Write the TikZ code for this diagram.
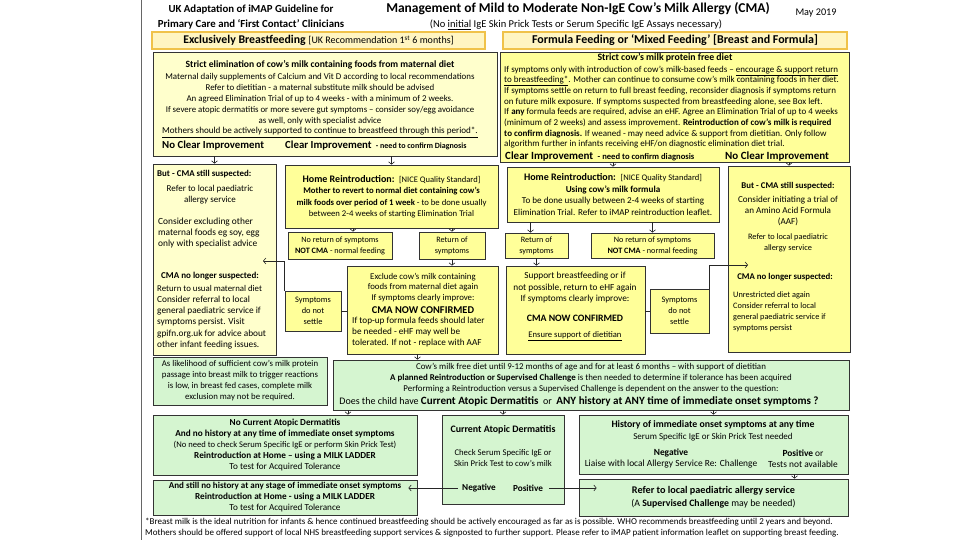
\documentclass[tikz,border=0pt]{standalone}
\usepackage{fontspec}
\setmainfont{Carlito}
\usetikzlibrary{arrows.meta,calc}
\definecolor{yel}{HTML}{FFFF99}
\definecolor{cream}{HTML}{FFFFCC}
\definecolor{grn}{HTML}{D5F5D0}
\definecolor{bandfill}{HTML}{FFF5C2}
\definecolor{bandedge}{HTML}{F0C24A}
\newcommand\fs[2]{\fontsize{#1}{#2}\selectfont}
\newcommand\mybox[7]{\node[#2, minimum width={#5pt-#3pt}, minimum height={#6pt-#4pt}] (#1) at ({(#3+#5)/2},{(#4+#6)/2}) {#7};}
\begin{document}
\begin{tikzpicture}[x=1pt,y=-1pt,
 bx/.style={draw=black!80, line width=0.7pt, inner sep=1pt, align=center, font=\fs{8}{10.6}},
 ybx/.style={bx, fill=yel},
 cbx/.style={bx, fill=cream},
 gbx/.style={bx, fill=grn},
 band/.style={draw=bandedge, line width=1.6pt, fill=bandfill, inner sep=0pt},
 txt/.style={inner sep=0pt, align=center, font=\fs{8}{10.6}},
 arr/.style={draw=black!85, line width=0.6pt, -{Straight Barb[length=2.5pt,width=6pt]}},
 ln/.style={draw=black!85, line width=0.6pt}]
\useasboundingbox (0,0) rectangle (960,540);
\fill[white] (0,0) rectangle (960,540);
\draw[black!60, line width=1pt] (141,0) -- (141,540);
% header
\node[txt, font=\bfseries\fs{10.8}{12}] (h1) at (251,10) {UK Adaptation of iMAP Guideline for};
\node[txt, font=\bfseries\fs{10.8}{12}] (h2) at (251,24) {Primary Care and ‘First Contact’ Clinicians};
\node[txt, font=\bfseries\fs{13.5}{16}] (title) at (578,9) {Management of Mild to Moderate Non-IgE Cow’s Milk Allergy (CMA)};
\node[txt, font=\fs{10.5}{12}] (sub) at (576,25) {(No \underline{initial} IgE Skin Prick Tests or Serum Specific IgE Assays necessary)};
\node[txt, font=\fs{10.2}{12}] (date) at (816,13) {May 2019};
% bands
\mybox{bandL}{band}{152}{32}{485}{49}{\bfseries\fs{11.8}{13}Exclusively Breastfeeding \mdseries\fs{10}{13}[UK Recommendation 1\textsuperscript{st} 6 months]}
\mybox{bandR}{band}{503}{32}{847}{49}{\bfseries\fs{12}{13}Formula Feeding or ‘Mixed Feeding’ [Breast and Formula]}
% top left
\mybox{TL}{cbx}{153}{52}{497}{156}{}
\node[txt, font=\fs{8.9}{10.8}] (tlt) at (320,99) {{\bfseries\fs{9.6}{10.8}Strict elimination of cow’s milk containing foods from maternal diet}\\[1.5pt]
Maternal daily supplements of Calcium and Vit D according to local recommendations\\
Refer to dietitian - a maternal substitute milk should be advised\\
An agreed Elimination Trial of up to 4 weeks - with a minimum of 2 weeks.\\
{\fs{8.8}{10.8}If severe atopic dermatitis or more severe gut symptoms – consider soy/egg avoidance}\\
as well, only with specialist advice\\
{\fs{9.1}{10.8}\underline{Mothers should be actively supported to continue to breastfeed through this period*.}}};
\node[txt, anchor=west, font=\bfseries\fs{10.8}{12}] (tlno) at (162,146) {No Clear Improvement};
\node[txt, anchor=west, font=\bfseries\fs{10.8}{12}] (tlyes) at (285,146) {Clear Improvement {\fs{8}{9} - need to confirm Diagnosis}};
% top right
\mybox{TR}{ybx}{500}{52}{849}{162}{}
\node[txt, font=\bfseries\fs{9.8}{10}] (trh) at (665,58) {Strict cow’s milk protein free diet};
\node[txt, anchor=north west, align=left, font=\fs{9}{10.7}] (trt) at (504,65.5) {If symptoms only with introduction of cow’s milk-based feeds – \underline{encourage \& support return}\\
\underline{to breastfeeding*}. Mother can continue to consume cow’s milk containing foods in her diet.\\
If symptoms settle on return to full breast feeding, reconsider diagnosis if symptoms return\\
on future milk exposure. If symptoms suspected from breastfeeding alone, see Box left.\\
If \textbf{any} formula feeds are required, advise an eHF. Agree an Elimination Trial of up to 4 weeks\\
(minimum of 2 weeks) and assess improvement. \textbf{Reintroduction of cow’s milk is required}\\
\textbf{to confirm diagnosis.} If weaned - may need advice \& support from dietitian. Only follow\\
algorithm further in infants receiving eHF/on diagnostic elimination diet trial.};
\node[txt, anchor=west, font=\bfseries\fs{11}{12}] (tryes) at (505,157) {Clear Improvement {\fs{8.6}{9} - need to confirm diagnosis}};
\node[txt, anchor=west, font=\bfseries\fs{11}{12}] (trno) at (725,157) {No Clear Improvement};
% left CMA box
\mybox{CMAL}{cbx}{153}{164}{276}{355}{}
\node[txt, anchor=west, font=\bfseries\fs{8.9}{10}] (cl1) at (157,174) {But - CMA still suspected:};
\node[txt, font=\fs{9}{11}] (cl2) at (210,194.5) {Refer to local paediatric\\ allergy service};
\node[txt, anchor=west, align=left, font=\fs{9.4}{11}] (cl3) at (158,233) {Consider excluding other\\ maternal foods eg soy, egg\\ only with specialist advice};
\node[txt, font=\bfseries\fs{9}{10}] (cl4) at (210,276) {CMA no longer suspected:};
\node[txt, anchor=west, align=left, font=\fs{9.3}{11.2}] (cl5) at (157,317) {{\fs{8.8}{11.2}Return to usual maternal diet}\\ Consider referral to local\\ general paediatric service if\\ symptoms persist. Visit\\ gpifn.org.uk for advice about\\ other infant feeding issues.};
% left middle column
\mybox{HomeL}{ybx, font=\fs{8.7}{11.5}}{285}{165}{498}{228}{{\bfseries\fs{10}{11.5}Home Reintroduction:} \ {\fs{8.5}{11.5}[NICE Quality Standard]}\\ \textbf{Mother to revert to normal diet containing cow’s}\\ \textbf{milk foods over period of 1 week} - to be done usually\\ between 2-4 weeks of starting Elimination Trial}
\mybox{NoRetL}{ybx, font=\fs{8.2}{11}}{288}{232}{392}{259}{No return of symptoms\\ \textbf{NOT CMA} - normal feeding}
\mybox{RetL}{ybx, font=\fs{8.2}{11}}{419}{232}{485}{259}{Return of\\ symptoms}
\mybox{SymL}{ybx, font=\fs{8.4}{11}}{285}{291}{341}{331}{Symptoms\\ do not\\ settle}
\mybox{ExclL}{ybx}{347}{266}{498}{354}{}
\node[txt, font=\fs{8.8}{10.8}] (ex1) at (423,287.5) {Exclude cow’s milk containing\\ foods from maternal diet again\\ If symptoms clearly improve:};
\node[txt, font=\bfseries\fs{10.4}{11}] (ex2) at (423,310) {CMA NOW CONFIRMED};
\node[txt, anchor=west, align=left, font=\fs{9.2}{11}] (ex3) at (352,332) {If top-up formula feeds should later\\ be needed - eHF may well be\\ tolerated. If not - replace with AAF};
% right middle column
\mybox{HomeR}{ybx, font=\fs{9.1}{11.8}}{507}{167}{719}{222}{{\bfseries\fs{10}{11.8}Home Reintroduction:} \ {\fs{8.5}{11.8}[NICE Quality Standard]}\\ \textbf{Using cow’s milk formula}\\ To be done usually between 2-4 weeks of starting\\ Elimination Trial. Refer to iMAP reintroduction leaflet.}
\mybox{RetR}{ybx, font=\fs{8.2}{11}}{505}{233}{568}{258}{Return of\\ symptoms}
\mybox{NoRetR}{ybx, font=\fs{8.2}{11}}{591}{233}{714}{258}{No return of symptoms\\ \textbf{NOT CMA} - normal feeding}
\mybox{SupR}{ybx}{506}{266}{645}{354}{}
\node[txt, font=\fs{9.3}{11.5}] (su1) at (575,288) {Support breastfeeding or if\\ not possible, return to eHF again\\ If symptoms clearly improve:};
\node[txt, font=\bfseries\fs{9.8}{11}] (su2) at (575,318) {CMA NOW CONFIRMED};
\node[txt, font=\fs{8.6}{10}] (su3) at (575,336) {\underline{Ensure support of dietitian}};
\mybox{SymR}{ybx, font=\fs{8.4}{11}}{650}{289}{709}{333}{Symptoms\\ do not\\ settle}
% right CMA box
\mybox{CMAR}{ybx}{728}{166}{850}{352}{}
\node[txt, font=\bfseries\fs{8.8}{10}] (cr1) at (788,186) {But - CMA still suspected:};
\node[txt, font=\fs{9.1}{11}] (cr2) at (788,211) {Consider initiating a trial of\\ an Amino Acid Formula\\ (AAF)};
\node[txt, font=\fs{8.3}{11}] (cr3) at (788,242.5) {Refer to local paediatric\\ allergy service};
\node[txt, font=\bfseries\fs{8.8}{10}] (cr4) at (785,277) {CMA no longer suspected:};
\node[txt, anchor=west, align=left, font=\fs{8.3}{11}] (cr5) at (733,311.5) {Unrestricted diet again\\ Consider referral to local\\ general paediatric service if\\ symptoms persist};
% green row
\mybox{Likely}{gbx, font=\fs{8.8}{11}}{153}{357}{327}{405}{As likelihood of sufficient cow’s milk protein\\ passage into breast milk to trigger reactions\\ is low, in breast fed cases, complete milk\\ exclusion may not be required.}
\mybox{CowFree}{gbx}{333}{360}{849}{410}{}
\node[txt, font=\fs{8.9}{11.2}] (cf1) at (591,378) {Cow’s milk free diet until 9-12 months of age and for at least 6 months – with support of dietitian\\ \textbf{A planned Reintroduction or Supervised Challenge} is then needed to determine if tolerance has been acquired\\ Performing a Reintroduction versus a Supervised Challenge is dependent on the answer to the question:};
\node[txt, font=\fs{10}{11}] (cf2) at (579,401) {Does the child have {\bfseries\fs{11.1}{11}Current Atopic Dermatitis} \ or \ {\bfseries\fs{11.1}{11}ANY history at ANY time of immediate onset symptoms ?}};
\mybox{NoAD}{gbx, font=\fs{9.2}{11}}{153}{415}{417}{475}{\textbf{No Current Atopic Dermatitis}\\ \textbf{And no history at any time of immediate onset symptoms}\\ {\fs{8.6}{11}(No need to check Serum Specific IgE or perform Skin Prick Test)}\\ \textbf{Reintroduction at Home – using a MILK LADDER}\\ To test for Acquired Tolerance}
\mybox{Still}{gbx, font=\fs{9.2}{11}}{153}{480}{417}{515}{{\bfseries\fs{9}{11}And still no history at any stage of immediate onset symptoms}\\ \textbf{Reintroduction at Home - using a MILK LADDER}\\ To test for Acquired Tolerance}
\mybox{CurAD}{gbx}{442}{415}{564}{504}{}
\node[txt, font=\bfseries\fs{9.9}{10}] (ca1) at (503,430) {Current Atopic Dermatitis};
\node[txt, font=\fs{8.7}{11}] (ca2) at (503,458.5) {Check Serum Specific IgE or\\ Skin Prick Test to cow’s milk};
\node[txt, font=\bfseries\fs{9.2}{10}] (neg) at (479,488) {Negative};
\node[txt, font=\bfseries\fs{9.2}{10}] (pos) at (528,488) {Positive};
\mybox{Hist}{gbx}{579}{415}{848}{474}{}
\node[txt, font=\bfseries\fs{9.8}{10}] (hi1) at (713,425) {History of immediate onset symptoms at any time};
\node[txt, font=\fs{9}{10}] (hi2) at (713,437) {Serum Specific IgE or Skin Prick Test needed};
\node[txt, font=\fs{9.4}{11}] (hi3) at (671,458.5) {\textbf{Negative}\\ Liaise with local Allergy Service Re: Challenge};
\node[txt, font=\fs{9.4}{11}] (hi4) at (803,458.5) {\textbf{Positive} or\\ Tests not available};
\mybox{Refer}{gbx, font=\fs{9.8}{13}}{579}{479}{848}{516}{{\bfseries\fs{10.2}{13}Refer to local paediatric allergy service}\\ (A \textbf{Supervised Challenge} may be needed)}
% footnote
\node[txt, anchor=west, align=left, font=\fs{9}{11}] (fn) at (145,527.5) {*Breast milk is the ideal nutrition for infants \& hence continued breastfeeding should be actively encouraged as far as is possible. WHO recommends breastfeeding until 2 years and beyond.\\ Mothers should be offered support of local NHS breastfeeding support services \& signposted to further support. Please refer to iMAP patient information leaflet on supporting breast feeding.};
% connectors
\draw[arr] (TL.south -| CMAL.north) -- (CMAL.north);
\draw[arr] (TL.south -| HomeL.north) -- (HomeL.north);
\draw[arr] ([xshift=13pt]NoRetL.north |- HomeL.south) -- ([xshift=13pt]NoRetL.north);
\draw[arr] (RetL.north |- HomeL.south) -- (RetL.north);
\draw[arr] (RetL.south) -- (RetL.south |- ExclL.north);
\draw[arr] ([xshift=-5pt]ExclL.south) -- ([xshift=-5pt]ExclL.south |- CowFree.north);
\draw[ln] (SymL.east) -- (SymL.east -| ExclL.west);
\coordinate (tipL) at (263,261);
\draw[arr] (SymL.north west) |- (tipL);
\draw[arr] (TR.south -| HomeR.north) -- (HomeR.north);
\draw[arr] (TR.south -| CMAR.north) -- (CMAR.north);
\draw[arr] ([xshift=-6pt]RetR.north |- HomeR.south) -- ([xshift=-6pt]RetR.north);
\draw[arr] (NoRetR.north |- HomeR.south) -- (NoRetR.north);
\draw[arr] (RetR.south) -- (RetR.south |- SupR.north);
\draw[ln] (SupR.east |- SymR.west) -- (SymR.west);
\coordinate (tipR) at (748,265);
\draw[arr] (SymR.north east) |- (tipR);
\draw[arr] ([xshift=63pt]NoAD.north |- CowFree.south) -- ([xshift=63pt]NoAD.north);
\draw[arr] (CurAD.north |- CowFree.south) -- (CurAD.north);
\draw[arr] (Hist.north |- CowFree.south) -- (Hist.north);
\draw[arr] ([xshift=81pt]Hist.south) -- ([xshift=81pt]Hist.south |- Refer.north);
\draw[arr] ([xshift=-4pt]neg.west) -- ([xshift=-9pt]Still.east |- neg.west);
\draw[arr] ([xshift=6pt]pos.east) -- ([xshift=18pt]Refer.west |- pos.east);
\end{tikzpicture}
\end{document}
